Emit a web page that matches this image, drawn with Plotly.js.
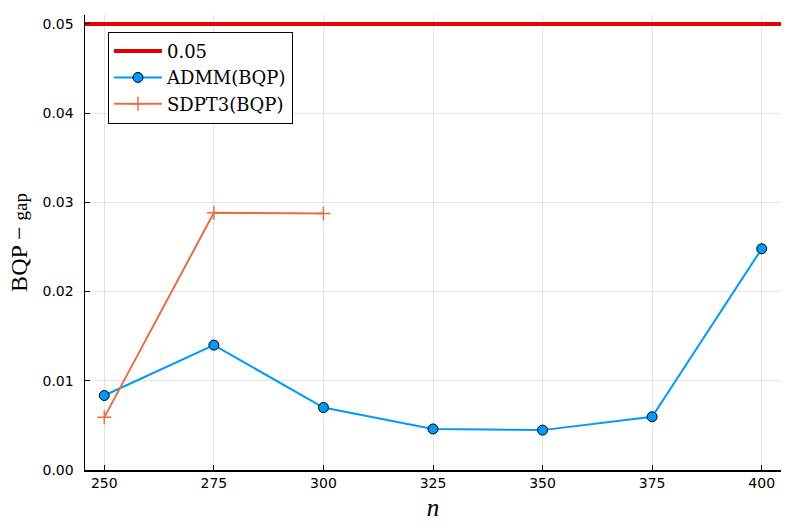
<!DOCTYPE html>
<html>
<head>
<meta charset="utf-8">
<script src="https://cdn.plot.ly/plotly-3.0.1.min.js"></script>
<style>
  html, body { margin: 0; padding: 0; background: #fff; }
  #chart { width: 797px; height: 532px; }
</style>
</head>
<body>
<div id="chart"></div>
<script>
// problem sizes n
let n = [250, 275, 300, 325, 350, 375, 400];
let nSdpt3 = [250, 275, 300];

// BQP gap for each solver
let gapAdmm = [0.00835, 0.0140, 0.0070, 0.0046, 0.00447, 0.00597, 0.0248];
let gapSdpt3 = [0.0059, 0.02883, 0.02876];

// threshold line
let threshold = 0.05;
let xRange = [245.6, 404.4];

let serif = 'Liberation Serif, Times New Roman, serif';
let sans = 'DejaVu Sans, sans-serif';

let traces = [
    {
        name: '0.05',
        mode: 'lines',
        type: 'scatter',
        x: xRange,
        y: [threshold, threshold],
        line: {color: 'rgb(228,0,0)', width: 4}
    },
    {
        name: 'ADMM(BQP)',
        mode: 'lines+markers',
        type: 'scatter',
        x: n,
        y: gapAdmm,
        line: {color: '#009AFA', width: 2},
        marker: {symbol: 'circle', size: 10, color: '#009AFA', line: {color: '#000', width: 1}}
    },
    {
        name: 'SDPT3(BQP)',
        mode: 'lines+markers',
        type: 'scatter',
        x: nSdpt3,
        y: gapSdpt3,
        line: {color: '#E36F47', width: 2},
        marker: {symbol: 'cross-thin', size: 10, color: '#E36F47', line: {color: '#E36F47', width: 1.5}}
    }
];

let layout = {
    width: 797,
    height: 532,
    margin: {l: 85, r: 16, t: 15, b: 62},
    paper_bgcolor: '#fff',
    plot_bgcolor: '#fff',
    showlegend: true,
    legend: {
        x: 0.033,
        y: 0.963,
        xanchor: 'left',
        yanchor: 'top',
        bgcolor: '#fff',
        bordercolor: '#000',
        borderwidth: 1,
        font: {family: 'DejaVu Serif, serif', size: 18, color: '#000'},
        tracegroupgap: 0,
        itemwidth: 48
    },
    xaxis: {
        range: xRange,
        tickvals: n,
        ticks: 'inside',
        ticklen: 5,
        tickcolor: '#000',
        showline: true,
        linecolor: '#000',
        linewidth: 1.5,
        showgrid: true,
        gridcolor: 'rgba(0,0,0,0.1)',
        zeroline: false,
        tickfont: {family: sans, size: 14, color: '#000'},
        title: {text: '<i>n</i>', font: {family: serif, size: 25, color: '#000'}, standoff: 8}
    },
    yaxis: {
        range: [0, 0.051],
        dtick: 0.01,
        tickformat: '.2f',
        ticks: 'inside',
        ticklen: 5,
        tickcolor: '#000',
        showline: true,
        linecolor: '#000',
        linewidth: 1.5,
        showgrid: true,
        gridcolor: 'rgba(0,0,0,0.1)',
        zeroline: false,
        ticklabelstandoff: 7,
        tickfont: {family: sans, size: 14, color: '#000'},
        title: {text: 'BQP − <span style="font-size:19px">gap</span>', font: {family: serif, size: 24, color: '#000'}, standoff: 8}
    }
};

Plotly.newPlot('chart', traces, layout, {displayModeBar: false, staticPlot: true});
</script>
</body>
</html>
